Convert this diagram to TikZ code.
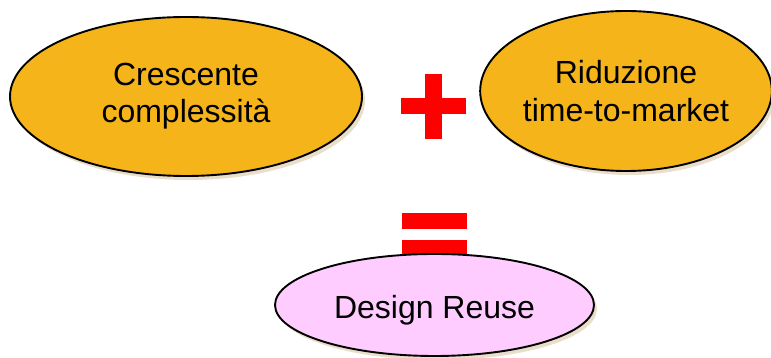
\documentclass[tikz,border=0pt]{standalone}
\usepackage{fontspec}
\setmainfont{Liberation Sans}
\usetikzlibrary{shapes.geometric,shadows}
\definecolor{goldfill}{RGB}{245,180,26}
\definecolor{pinkfill}{RGB}{255,204,255}
\definecolor{shade}{RGB}{222,208,180}
\tikzset{
  bubble/.style={ellipse, draw=black, line width=1.9pt, inner sep=0pt,
    align=center, font=\fontsize{32}{37.5}\selectfont,
    drop shadow={shadow xshift=3pt, shadow yshift=-4pt, fill=shade, opacity=0.7, draw=none}},
  gold/.style={bubble, fill=goldfill},
  pink/.style={bubble, fill=pinkfill},
  sign/.style={fill=red}
}
\begin{document}
\begin{tikzpicture}[x=1pt,y=1pt]
  \useasboundingbox (0,0) rectangle (771,358);
  % plus sign
  \fill[sign] (425.3,219.3) rectangle (441.7,284);
  \fill[sign] (401.3,243.7) rectangle (466,260.3);
  % equals sign (lower bar runs under the result bubble)
  \fill[sign] (401.7,129.3) rectangle (466.7,144.7);
  \fill[sign] (401.7,102) rectangle (466.7,118);
  % the three bubbles
  \node[gold, minimum width=352pt, minimum height=159pt] (cresc) at (186,261.5)
    {\raisebox{-3pt}{\begin{tabular}{@{}c@{}}Crescente\\complessità\end{tabular}}};
  \node[gold, minimum width=286pt, minimum height=160pt] (ridu) at (626,267)
    {Riduzione\\time-to-market};
  \node[pink, minimum width=319pt, minimum height=102pt, text depth=0pt] (reuse) at (434.5,53)
    {\raisebox{-4pt}{Design Reuse}};
\end{tikzpicture}
\end{document}
